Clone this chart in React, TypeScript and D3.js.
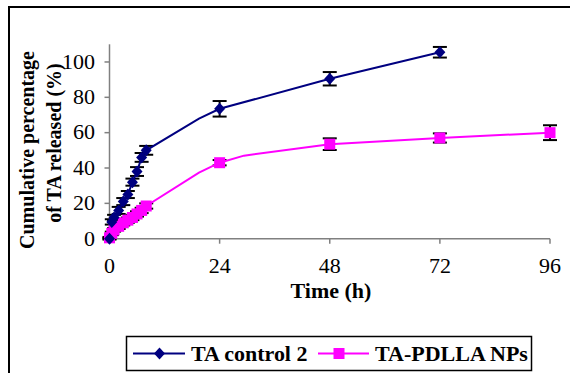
import * as d3 from 'd3'

// TA control 2 (navy diamonds)
const controlTimes = [0, 0.5, 1, 2, 3, 4, 5, 6, 7, 8, 24, 48, 72]
const controlValues = [0, 9.5, 12, 16, 21, 25, 32, 38, 46, 50, 73.5, 90.5, 105.5]
const controlErrors = [0.5, 1.5, 1.5, 2, 2, 2, 2, 2.5, 2.5, 2.5, 4.4, 3.8, 3]
// bends in the drawn line that carry no marker
const controlBendTimes = [19.5]
const controlBendValues = [68]

// TA-PDLLA NPs (magenta squares)
const npTimes = [0, 0.5, 1, 2, 3, 4, 5, 6, 7, 8, 24, 48, 72, 96]
const npValues = [0.5, 3, 5, 7, 9, 10.5, 12, 14, 16, 18.5, 43, 53.5, 57, 60]
const npErrors = [0.5, 1, 1, 1.5, 1.5, 1.5, 1.5, 1.5, 1.5, 1.5, 1.5, 3.3, 2.6, 4.2]
const npBendTimes = [19.5, 29.3]
const npBendValues = [37.4, 47]

const xTicks = [0, 24, 48, 72, 96]
const yTicks = [0, 20, 40, 60, 80, 100]

const NAVY = '#000080'
const MAGENTA = '#FF00FF'
const FONT = "'Liberation Serif', 'Times New Roman', serif"

const x = d3.scaleLinear().domain([0, 96]).range([109.5, 550])
const y = d3.scaleLinear().domain([0, 110]).range([238.7, 44.3])

function merged(t: number[], v: number[], bt: number[], bv: number[]) {
  const pts = t.map((d, i) => [d, v[i]] as [number, number])
    .concat(bt.map((d, i) => [d, bv[i]] as [number, number]))
  return pts.sort((a, b) => a[0] - b[0])
}

const line = d3.line<[number, number]>().x(d => x(d[0])).y(d => y(d[1]))

// the original picture is a little stretched sideways, so horizontal text is widened
function HText({ x, y, anchor, dy, children }: { x: number; y: number; anchor?: string; dy?: string; children: any }) {
  return (
    <text transform={`translate(${x},${y}) scale(1.1,1)`} textAnchor={anchor} dy={dy}>{children}</text>
  )
}

function ErrorBars({ times, values, errors }: { times: number[]; values: number[]; errors: number[] }) {
  return (
    <g stroke="#000" strokeWidth={2}>
      {times.map((t, i) => {
        const cx = x(t)
        const y1 = y(values[i] + errors[i])
        const y2 = y(values[i] - errors[i])
        return (
          <g key={i}>
            <line x1={cx} x2={cx} y1={y1} y2={y2} />
            <line x1={cx - 7} x2={cx + 7} y1={y1} y2={y1} />
            <line x1={cx - 7} x2={cx + 7} y1={y2} y2={y2} />
          </g>
        )
      })}
    </g>
  )
}

function Diamond({ cx, cy }: { cx: number; cy: number }) {
  const r = 6
  return <path d={`M${cx},${cy - r}L${cx + r - 0.5},${cy}L${cx},${cy + r}L${cx - r + 0.5},${cy}Z`} fill={NAVY} />
}

function Square({ cx, cy }: { cx: number; cy: number }) {
  const s = 11
  return <rect x={cx - s / 2} y={cy - s / 2} width={s} height={s} fill={MAGENTA} />
}

const textStyle = { fontFamily: FONT }

export default function App() {
  const controlLine = merged(controlTimes, controlValues, controlBendTimes, controlBendValues)
  const npLine = merged(npTimes, npValues, npBendTimes, npBendValues)
  const axisColor = '#808080'

  return (
    <div style={{ position: 'fixed', left: 0, top: 0 }}>
      <svg width={570} height={373} style={{ display: 'block', background: '#fff', fontFamily: FONT }}>
        {/* outer frame */}
        <rect x={9} y={7} width={620} height={420} fill="none" stroke="#000" strokeWidth={2} />

        {/* axes */}
        <g stroke={axisColor} strokeWidth={1.5}>
          <line x1={x(0)} x2={x(0)} y1={y(110)} y2={y(0)} />
          <line x1={x(0)} x2={x(96)} y1={y(0)} y2={y(0)} />
          {yTicks.map(t => (
            <line key={t} x1={x(0) - 5} x2={x(0)} y1={y(t)} y2={y(t)} />
          ))}
          {xTicks.map(t => (
            <line key={t} x1={x(t)} x2={x(t)} y1={y(0)} y2={y(0) + 5} />
          ))}
        </g>
        <g style={{ ...textStyle, fontSize: 20 }} fill="#000">
          {yTicks.map(t => (
            <HText key={t} x={95} y={y(t)} dy="0.34em" anchor="end">{t}</HText>
          ))}
          {xTicks.map(t => (
            <HText key={t} x={x(t)} y={273} anchor="middle">{t}</HText>
          ))}
        </g>

        {/* axis titles */}
        <g style={{ ...textStyle, fontSize: 20, fontWeight: 'bold' }}>
          <HText x={331} y={298} anchor="middle">Time (h)</HText>
          <text transform="translate(34,150) rotate(-90)" textAnchor="middle">Cumulative percentage</text>
          <text transform="translate(61,143) rotate(-90)" textAnchor="middle">of TA released (%)</text>
        </g>

        {/* series */}
        <ErrorBars times={controlTimes} values={controlValues} errors={controlErrors} />
        <ErrorBars times={npTimes} values={npValues} errors={npErrors} />
        <path d={line(npLine) ?? ''} fill="none" stroke={MAGENTA} strokeWidth={2} />
        <path d={line(controlLine) ?? ''} fill="none" stroke={NAVY} strokeWidth={2} />
        {npTimes.map((t, i) => <Square key={i} cx={x(t)} cy={y(npValues[i])} />)}
        {controlTimes.map((t, i) => <Diamond key={i} cx={x(t)} cy={y(controlValues[i])} />)}

        {/* legend */}
        <rect x={126.5} y={336.5} width={405} height={34} fill="#fff" stroke="#000" strokeWidth={1.5} />
        <line x1={133} x2={185} y1={353.5} y2={353.5} stroke={NAVY} strokeWidth={2} />
        <Diamond cx={159.5} cy={353.5} />
        <line x1={318} x2={369} y1={353.5} y2={353.5} stroke={MAGENTA} strokeWidth={2} />
        <Square cx={339} cy={353.5} />
        <g style={{ ...textStyle, fontSize: 20, fontWeight: 'bold' }}>
          <HText x={191} y={360.5}>TA control 2</HText>
          <HText x={375} y={360.5}>TA-PDLLA NPs</HText>
        </g>
      </svg>
    </div>
  )
}
